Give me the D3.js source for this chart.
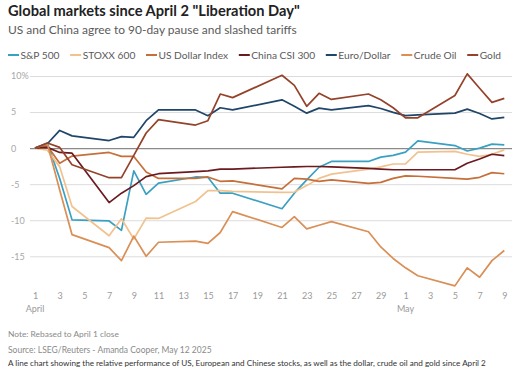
<!DOCTYPE html>
<html><head><meta charset="utf-8">
<script src="https://cdn.jsdelivr.net/npm/d3@7"></script>
<style>body{margin:0;background:#fff;} svg{display:block;font-family:Lato,"Open Sans",sans-serif;}</style>
</head><body>
<svg id="c" width="520" height="379"></svg>
<script>
const dates = ["2025-04-01","2025-04-02","2025-04-03","2025-04-04","2025-04-07","2025-04-08","2025-04-09","2025-04-10","2025-04-11",
  "2025-04-14","2025-04-15","2025-04-16","2025-04-17","2025-04-21","2025-04-22","2025-04-23","2025-04-24","2025-04-25",
  "2025-04-28","2025-04-29","2025-04-30","2025-05-01","2025-05-02","2025-05-05","2025-05-06","2025-05-07","2025-05-08","2025-05-09"];
const seriesNames = ["S&P 500","STOXX 600","US Dollar Index","China CSI 300","Euro/Dollar","Crude Oil","Gold"];
const seriesColors = ["#3aa0c2","#f1c28f","#c56f3b","#6b1b1f","#1f4568","#d98f55","#94432a"];
const sp500     = [0,0.7,-4.2,-9.95,-10.1,-11.4,-3.15,-6.4,-4.85,-4.0,-4.05,-6.25,-6.25,-8.4,-6.25,-4.4,-2.65,-1.85,-1.85,-1.25,-1.0,-0.55,1.0,0.35,-0.4,0.0,0.55,0.45];
const stoxx600  = [0,-0.3,-2.6,-8.1,-12.15,-9.8,-12.6,-9.7,-9.75,-7.4,-5.9,-5.9,-6.0,-6.15,-6.1,-5.2,-4.2,-3.6,-2.9,-2.6,-2.2,-2.2,-0.55,-0.45,-0.85,-1.15,-0.85,-0.25];
const dollarIdx = [0,0.3,-2.1,-1.1,-0.6,-1.15,-1.15,-3.3,-4.2,-4.2,-4.0,-4.6,-4.55,-5.65,-4.2,-4.3,-4.6,-4.4,-4.9,-4.75,-4.2,-3.85,-3.9,-4.2,-4.3,-4.05,-3.4,-3.55];
const chinaCsi  = [0,0.1,-0.6,-0.7,-7.55,-6.25,-5.2,-3.95,-3.55,-3.25,-3.15,-2.9,-2.9,-2.65,-2.6,-2.55,-2.55,-2.6,-2.8,-2.9,-3.0,-3.0,-3.0,-3.0,-2.1,-1.5,-0.85,-1.05];
const euroDollar= [0,0.6,2.45,1.7,1.05,1.6,1.5,3.8,5.3,5.3,4.5,5.6,5.3,6.7,5.8,4.85,5.55,5.3,5.9,5.5,4.95,4.5,4.6,4.85,5.4,4.8,4.05,4.25];
const crudeOil  = [0,0.6,-5.8,-12.0,-13.8,-15.6,-12.2,-15.0,-13.05,-12.9,-13.2,-11.7,-8.8,-11.0,-9.5,-11.2,-10.7,-10.2,-11.6,-13.7,-15.3,-16.6,-17.7,-19.1,-16.6,-17.9,-15.6,-14.2];
const gold      = [0,0.7,0.1,-2.3,-4.1,-4.1,-1.0,2.1,3.95,3.2,3.8,7.5,7.0,10.1,8.7,5.8,7.6,6.75,7.5,6.7,5.6,4.2,4.2,7.3,10.3,8.3,6.35,6.9];
const seriesValues = [sp500,stoxx600,dollarIdx,chinaCsi,euroDollar,crudeOil,gold];
const yTicks = [10,5,0,-5,-10,-15];
const xTickDates = ["2025-04-01","2025-04-03","2025-04-05","2025-04-07","2025-04-09","2025-04-11","2025-04-13","2025-04-15","2025-04-17","2025-04-19",
  "2025-04-21","2025-04-23","2025-04-25","2025-04-27","2025-04-29","2025-05-01","2025-05-03","2025-05-05","2025-05-07","2025-05-09"];
const monthLabels = [["2025-04-01","April"],["2025-05-01","May"]];
const title = "Global markets since April 2 \"Liberation Day\"";
const subtitle = "US and China agree to 90-day pause and slashed tariffs";
const note = "Note: Rebased to April 1 close";
const source = "Source: LSEG/Reuters - Amanda Cooper, May 12 2025";
const desc = "A line chart showing the relative performance of US, European and Chinese stocks, as well as the dollar, crude oil and gold since April 2";

const svg = d3.select("#c");
const parse = d3.utcParse("%Y-%m-%d");
const x = d3.scaleUtc().domain([parse("2025-04-01"), parse("2025-05-09")]).range([35, 504.3]);
const y = d3.scaleLinear().domain([-15, 10]).range([256.3, 76]);
const gridL = 30, gridR = 512;

function fit(sel, w) {
  const tl = sel.node().getComputedTextLength();
  const fs = parseFloat(sel.attr("font-size"));
  sel.attr("font-size", fs * w / tl);
  return sel;
}

// Title & subtitle
fit(svg.append("text").attr("x", 8).attr("y", 15.8).attr("font-size", 14).attr("font-weight", 700).attr("fill", "#222").text(title), 292);
fit(svg.append("text").attr("x", 8).attr("y", 33.5).attr("font-size", 11).attr("fill", "#5a5a5a").text(subtitle), 289);

// Legend
const lg = svg.append("g");
const items = seriesNames.map((n, i) => {
  const g = lg.append("g");
  g.append("line").attr("x1", 0).attr("x2", 11).attr("y1", 0).attr("y2", 0).attr("stroke", seriesColors[i]).attr("stroke-width", 2);
  const t = g.append("text").attr("x", 12.5).attr("y", 3.6).attr("font-size", 10.2).attr("fill", "#5a5a5a").text(n);
  return { g, w: 12.5 + t.node().getComputedTextLength() };
});
const totalW = d3.sum(items, d => d.w);
const gap = (501 - 8 - totalW) / (items.length - 1);
let lx = 8;
items.forEach(it => { it.g.attr("transform", `translate(${lx},55)`); lx += it.w + gap; });

// Y grid & labels
const yAxis = svg.append("g").attr("transform", `translate(${gridL},0)`)
  .call(d3.axisLeft(y).tickValues(yTicks).tickSize(-(gridR - gridL)).tickFormat(d => d === 10 ? "10%" : String(d)));
yAxis.select(".domain").remove();
yAxis.selectAll(".tick line").attr("stroke", d => d === 0 ? "#8a8a8a" : "#dcdcdc").attr("stroke-width", d => d === 0 ? 1.2 : 1);
yAxis.selectAll(".tick text").attr("text-anchor", "start").attr("x", 11 - gridL).attr("fill", "#a8a8a8").attr("font-size", 9).attr("font-family", "Lato, 'Open Sans', sans-serif");

// X axis labels
const xAxis = svg.append("g").attr("transform", "translate(0,293)")
  .call(d3.axisBottom(x).tickValues(xTickDates.map(parse)).tickSize(0).tickPadding(0).tickFormat(d => d.getUTCDate()));
xAxis.select(".domain").remove();
xAxis.selectAll(".tick text").attr("fill", "#9a9a9a").attr("font-size", 9).attr("font-family", "Lato, 'Open Sans', sans-serif");
monthLabels.forEach(([d, lab]) => {
  svg.append("text").attr("x", x(parse(d))).attr("y", 312).attr("text-anchor", "middle").attr("font-size", 9).attr("fill", "#9a9a9a").text(lab);
});

// Lines
const line = d3.line().defined(d => d[1] != null).x(d => x(d[0])).y(d => y(d[1]));
seriesValues.forEach((vals, i) => {
  const pts = dates.map((d, j) => [parse(d), vals[j]]);
  svg.append("path").datum(pts).attr("d", line).attr("fill", "none")
    .attr("stroke", seriesColors[i]).attr("stroke-width", 1.7).attr("stroke-linejoin", "round");
});

// Footer
fit(svg.append("text").attr("x", 8).attr("y", 337).attr("font-size", 8.5).attr("fill", "#8a8a8a").text(note), 111);
fit(svg.append("text").attr("x", 8).attr("y", 352.5).attr("font-size", 8.5).attr("fill", "#8a8a8a").text(source), 204);
fit(svg.append("text").attr("x", 8).attr("y", 366).attr("font-size", 8).attr("fill", "#333").text(desc), 479);
</script>
</body></html>
